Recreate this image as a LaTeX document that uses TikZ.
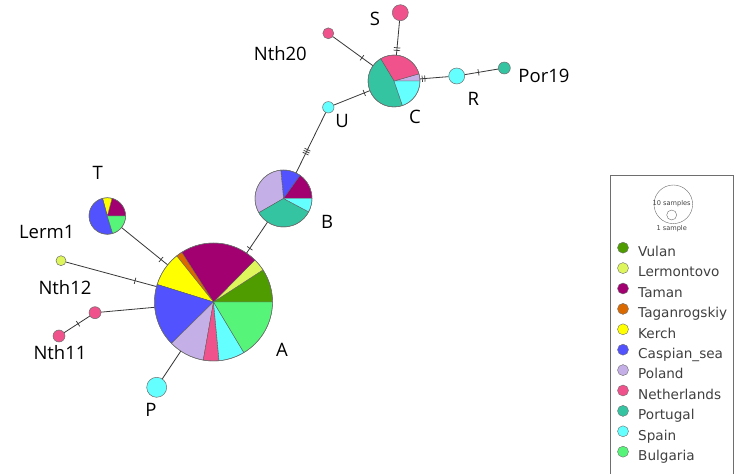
\documentclass[tikz,border=0pt]{standalone}
\usepackage{fontspec}
\setmainfont{Open Sans}
\newfontfamily\legfont{DejaVu Sans}
\usetikzlibrary{decorations.markings}
\definecolor{cVulan}{RGB}{78,156,0}
\definecolor{cLerm}{RGB}{222,246,92}
\definecolor{cTaman}{RGB}{162,0,112}
\definecolor{cTagan}{RGB}{218,106,0}
\definecolor{cKerch}{RGB}{255,255,0}
\definecolor{cCasp}{RGB}{82,82,255}
\definecolor{cPol}{RGB}{196,176,230}
\definecolor{cNeth}{RGB}{240,82,140}
\definecolor{cPort}{RGB}{52,196,162}
\definecolor{cSpain}{RGB}{100,255,255}
\definecolor{cBulg}{RGB}{86,245,122}
\definecolor{edgegray}{RGB}{55,55,55}
\definecolor{rimgray}{RGB}{110,110,110}
\newcommand{\pieslice}[5]{\fill[#5, draw=rimgray!80!black, line width=0.35pt] (#1) -- ++(#3:#2) arc[start angle=#3, end angle=#4, radius=#2] -- cycle;}
\tikzset{
  hap/.style={circle, draw=rimgray, line width=0.5pt, inner sep=0pt, minimum size=#1},
  edge/.style={draw=edgegray, line width=0.8pt},
  lab/.style={font=\fontsize{18.5}{20}\selectfont, text=black, inner sep=0pt},
  tk/.style={postaction={decorate, decoration={markings, mark=at position #1 with {\draw[edgegray, line width=0.7pt] (0,-3.2pt) -- (0,3.2pt);}}}},
  tkk/.style={postaction={decorate, decoration={markings, mark=at position #1 with {\draw[edgegray, line width=0.7pt] (-1.3pt,-3.2pt) -- (-1.3pt,3.2pt) (1.3pt,-3.2pt) -- (1.3pt,3.2pt);}}}},
  tkkk/.style={postaction={decorate, decoration={markings, mark=at position #1 with {\draw[edgegray, line width=0.7pt] (-2.2pt,-3.2pt) -- (-2.2pt,3.2pt) (0,-3.2pt) -- (0,3.2pt) (2.2pt,-3.2pt) -- (2.2pt,3.2pt);}}}},
  legdot/.style={circle, draw=rimgray, line width=0.4pt, inner sep=0pt, minimum size=11pt},
  legtxt/.style={anchor=base west, font=\legfont\fontsize{13.6}{16}\selectfont, text=black!75, inner sep=0pt}
}
\begin{document}
\begin{tikzpicture}[x=1pt, y=1pt]
\useasboundingbox (0,0) rectangle (734,474);
\fill[white] (0,0) rectangle (734,474);
% centres
\coordinate (cA) at (213.5,172);
\coordinate (cB) at (283.5,275.5);
\coordinate (cC) at (394,393);
\coordinate (cT) at (107.3,258);
% pie A
\pieslice{cA}{59}{0}{33}{cVulan}
\pieslice{cA}{59}{33}{45.5}{cLerm}
\pieslice{cA}{59}{45.5}{122.5}{cTaman}
\pieslice{cA}{59}{122.5}{128.6}{cTagan}
\pieslice{cA}{59}{128.6}{162.7}{cKerch}
\pieslice{cA}{59}{162.7}{224.5}{cCasp}
\pieslice{cA}{59}{224.5}{260}{cPol}
\pieslice{cA}{59}{260}{275.4}{cNeth}
\pieslice{cA}{59}{275.4}{301}{cSpain}
\pieslice{cA}{59}{301}{360}{cBulg}
% pie B
\pieslice{cB}{28.5}{0}{54.4}{cTaman}
\pieslice{cB}{28.5}{54.4}{95.5}{cCasp}
\pieslice{cB}{28.5}{95.5}{210}{cPol}
\pieslice{cB}{28.5}{210}{332}{cPort}
\pieslice{cB}{28.5}{332}{360}{cSpain}
% pie C
\pieslice{cC}{26}{0}{16}{cPol}
\pieslice{cC}{26}{16}{121}{cNeth}
\pieslice{cC}{26}{121}{289}{cPort}
\pieslice{cC}{26}{289}{360}{cSpain}
% pie T
\pieslice{cT}{18.3}{0}{75}{cTaman}
\pieslice{cT}{18.3}{75}{105}{cKerch}
\pieslice{cT}{18.3}{105}{287}{cCasp}
\pieslice{cT}{18.3}{287}{360}{cBulg}
% haplotype nodes
\node[hap=118pt] (A) at (cA) {};
\node[hap=57pt] (B) at (cB) {};
\node[hap=52pt] (C) at (cC) {};
\node[hap=36.6pt] (T) at (cT) {};
\node[hap=11.4pt, fill=cSpain] (U) at (328.3,366.7) {};
\node[hap=11pt, fill=cNeth] (N20) at (328.3,440.7) {};
\node[hap=16pt, fill=cNeth] (S) at (400.3,461.3) {};
\node[hap=16pt, fill=cSpain] (R) at (456.7,398) {};
\node[hap=12pt, fill=cPort] (P19) at (504.3,406) {};
\node[hap=10pt, fill=cLerm] (L1) at (61,213.3) {};
\node[hap=12pt, fill=cNeth] (N12) at (95,161.3) {};
\node[hap=12pt, fill=cNeth] (N11) at (59,138) {};
\node[hap=20pt, fill=cSpain] (P) at (156.7,86.7) {};
% edges
\draw[edge, tk=0.86] (T) -- (A);
\draw[edge, tk=0.765] (L1) -- (A);
\draw[edge] (N12) -- (A);
\draw[edge, tk=0.54] (N11) -- (N12);
\draw[edge] (P) -- (A);
\draw[edge, tk=0.85] (B) -- (A);
\draw[edge, tkkk=0.65] (U) -- (B);
\draw[edge, tk=0.85] (U) -- (C);
\draw[edge, tk=0.73] (N20) -- (C);
\draw[edge, tkk=0.83] (S) -- (C);
\draw[edge, tkk=0.12] (C) -- (R);
\draw[edge, tk=0.41] (R) -- (P19);
% labels
\node[lab] (lT) at (97.7,301) {T};
\node[lab] (lL1) at (46.7,242.3) {Lerm1};
\node[lab] (lN12) at (65,186.3) {Nth12};
\node[lab] (lN11) at (60,121.3) {Nth11};
\node[lab] (lP) at (151,64) {P};
\node[lab] (lA) at (282,124) {A};
\node[lab] (lB) at (327,252) {B};
\node[lab] (lU) at (342,353) {U};
\node[lab] (lC) at (415,357.3) {C};
\node[lab] (lR) at (473.3,374.7) {R};
\node[lab] (lS) at (375,455) {S};
\node[lab] (lN20) at (280.3,420.7) {Nth20};
\node[lab] (lP19) at (544,398) {Por19};
% legend
\draw[rimgray, line width=0.6pt] (610,-2) rectangle (733,299);
\node[circle, draw=rimgray, line width=0.4pt, inner sep=0pt, minimum size=38.6pt] (s10) at (673.3,269.7) {};
\node[circle, draw=rimgray, line width=0.4pt, inner sep=0pt, minimum size=10pt] (s1) at (671.7,259) {};
\node[font=\legfont\fontsize{6.6}{7}\selectfont, text=black!75, inner sep=0pt] (t10) at (671.7,270) {10 samples};
\node[font=\legfont\fontsize{6.6}{7}\selectfont, text=black!75, inner sep=0pt] (t1) at (671.7,245.7) {1 sample};
\foreach \c/\t [count=\i from 0] in {cVulan/Vulan, cLerm/Lermontovo, cTaman/Taman, cTagan/Taganrogskiy, cKerch/Kerch, cCasp/Caspian\_sea, cPol/Poland, cNeth/Netherlands, cPort/Portugal, cSpain/Spain, cBulg/Bulgaria}{
  \node[legdot, fill=\c] (ld\i) at (623,226.3-20.4*\i) {};
  \node[legtxt] (lt\i) at (638,217.5-20.4*\i) {\t};
}
\end{tikzpicture}
\end{document}
